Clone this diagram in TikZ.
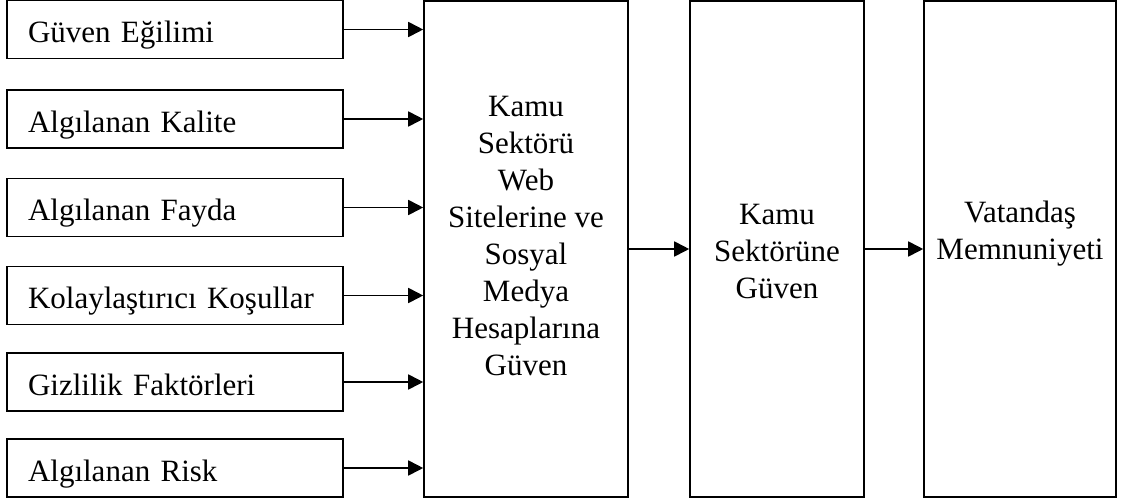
\documentclass[tikz,border=0pt]{standalone}
\usepackage{fontspec}
\setmainfont{Liberation Serif}
\usetikzlibrary{arrows.meta}
\begin{document}
\begin{tikzpicture}[x=1pt,y=-1pt,
  every node/.style={font=\fontsize{31}{37}\selectfont},
  factor/.style={draw, line width=1.6pt, minimum width=336pt, minimum height=58pt,
    text width=294pt, inner xsep=21pt, inner ysep=0pt, align=left,
    text height=31pt, text depth=5pt},
  tallbox/.style={draw, line width=1.6pt, minimum height=496pt, inner sep=0pt},
  caption/.style={align=center, inner sep=0pt},
  link/.style={line width=1.8pt, -{Triangle[length=15pt,width=15pt]}}]
\useasboundingbox (0,0) rectangle (1124,501);

% factor boxes on the left
\node[factor] (l1) at (175,29.5) {Güven Eğilimi};
\node[factor] (l2) at (175,119) {Algılanan Kalite};
\node[factor] (l3) at (175,207.5) {Algılanan Fayda};
\node[factor] (l4) at (175,295.5) {Kolaylaştırıcı Koşullar};
\node[factor] (l5) at (175,382) {Gizlilik Faktörleri};
\node[factor] (l6) at (175,468) {Algılanan Risk};

% the three tall boxes
\node[tallbox, minimum width=204pt] (b) at (526,249) {};
\node[tallbox, minimum width=174pt] (m) at (777,249) {};
\node[tallbox, minimum width=192pt] (v) at (1020,249) {};

\node[caption] (bt) at (526,236) {Kamu\\Sektörü\\Web\\Sitelerine ve\\Sosyal\\Medya\\Hesaplarına\\Güven};
\node[caption] (mt) at (777,251) {Kamu\\Sektörüne\\Güven};
\node[caption] (vt) at (1020,234) {Vatandaş\\Memnuniyeti};

% connectors
\foreach \i in {1,...,6}
  \draw[link] (l\i.east) -- (b.west |- l\i.east);
\draw[link] (b.east) -- (m.west);
\draw[link] (m.east) -- (v.west);
\end{tikzpicture}
\end{document}
